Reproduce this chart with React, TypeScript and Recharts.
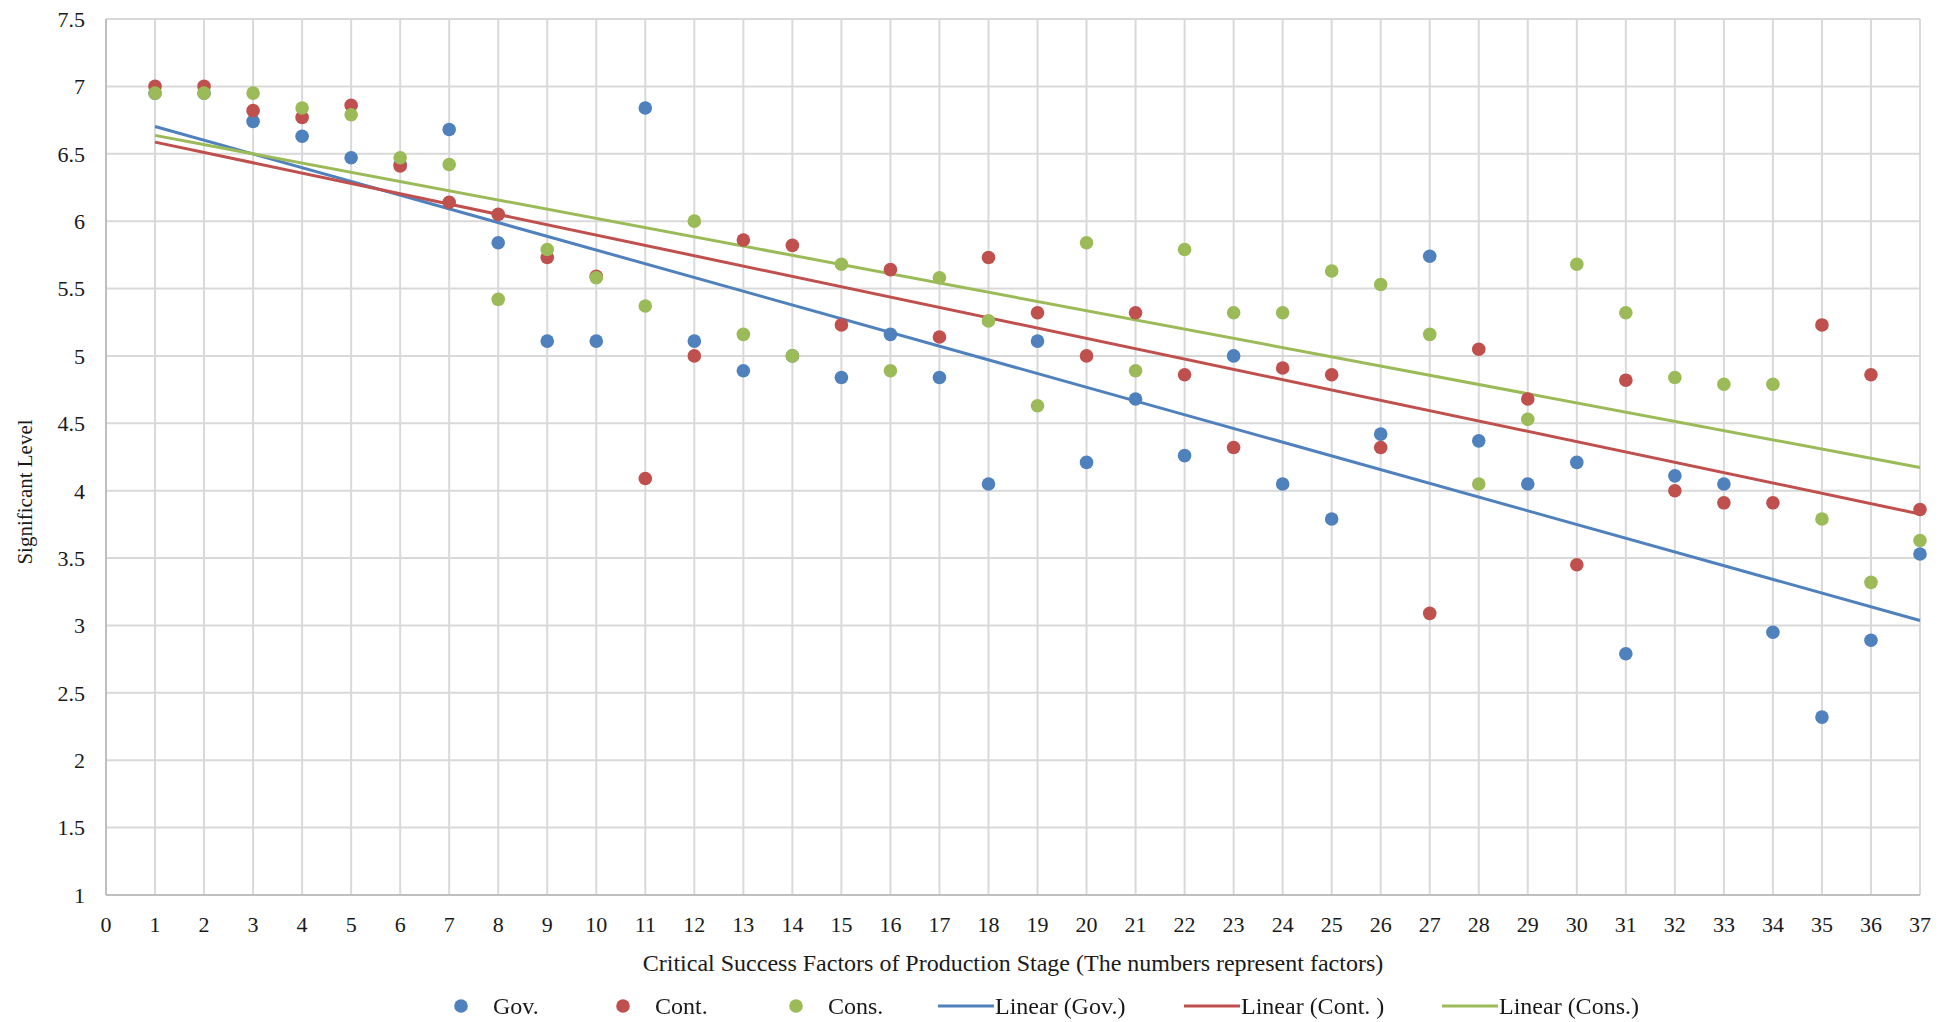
import { CartesianGrid, ComposedChart, Legend, Line, Scatter, XAxis, YAxis } from 'recharts';

const factors = [
  1, 2, 3, 4, 5, 6, 7, 8, 9, 10, 11, 12, 13, 14, 15, 16, 17, 18, 19, 20, 21, 22, 23, 24, 25, 26, 27, 28,
  29, 30, 31, 32, 33, 34, 35, 36, 37,
];

const govScores = [
  6.95, 6.95, 6.74, 6.63, 6.47, 6.42, 6.68, 5.84, 5.11, 5.11, 6.84, 5.11, 4.89, 5.0, 4.84, 5.16, 4.84, 4.05,
  5.11, 4.21, 4.68, 4.26, 5.0, 4.05, 3.79, 4.42, 5.74, 4.37, 4.05, 4.21, 2.79, 4.11, 4.05, 2.95, 2.32, 2.89,
  3.53,
];

const contScores = [
  7.0, 7.0, 6.82, 6.77, 6.86, 6.41, 6.14, 6.05, 5.73, 5.59, 4.09, 5.0, 5.86, 5.82, 5.23, 5.64, 5.14, 5.73,
  5.32, 5.0, 5.32, 4.86, 4.32, 4.91, 4.86, 4.32, 3.09, 5.05, 4.68, 3.45, 4.82, 4.0, 3.91, 3.91, 5.23, 4.86,
  3.86,
];

const consScores = [
  6.95, 6.95, 6.95, 6.84, 6.79, 6.47, 6.42, 5.42, 5.79, 5.58, 5.37, 6.0, 5.16, 5.0, 5.68, 4.89, 5.58, 5.26,
  4.63, 5.84, 4.89, 5.79, 5.32, 5.32, 5.63, 5.53, 5.16, 4.05, 4.53, 5.68, 5.32, 4.84, 4.79, 4.79, 3.79, 3.32,
  3.63,
];

const xTicks = [
  0, 1, 2, 3, 4, 5, 6, 7, 8, 9, 10, 11, 12, 13, 14, 15, 16, 17, 18, 19, 20, 21, 22, 23, 24, 25, 26, 27, 28,
  29, 30, 31, 32, 33, 34, 35, 36, 37,
];
const yTicks = [1, 1.5, 2, 2.5, 3, 3.5, 4, 4.5, 5, 5.5, 6, 6.5, 7, 7.5];

const FONT = '"Liberation Serif", "Times New Roman", serif';
const TEXT = '#1a1a1a';

const series = [
  { name: 'Gov.', trendName: 'Linear (Gov.)', color: '#4F81BD', values: govScores },
  { name: 'Cont.', trendName: 'Linear (Cont. )', color: '#C0504D', values: contScores },
  { name: 'Cons.', trendName: 'Linear (Cons.)', color: '#9BBB59', values: consScores },
];

const toPoints = (values: number[]) => factors.map((x, i) => ({ x, y: values[i] }));

// least squares fit, like Excel's linear trendline
const linearTrend = (values: number[]) => {
  const n = factors.length;
  const mx = factors.reduce((a, b) => a + b, 0) / n;
  const my = values.reduce((a, b) => a + b, 0) / n;
  let sxy = 0;
  let sxx = 0;
  factors.forEach((x, i) => {
    sxy += (x - mx) * (values[i] - my);
    sxx += (x - mx) * (x - mx);
  });
  const slope = sxy / sxx;
  return [factors[0], factors[n - 1]].map((x) => ({ x, y: my + slope * (x - mx) }));
};

const dotShape = (color: string) => (props: any) => (
  <circle cx={props.cx} cy={props.cy} r={6.8} fill={color} />
);

const legendLefts = [454, 616, 789, 938, 1184, 1442];

const LegendContent = () => {
  const items = [
    ...series.map((s) => ({ label: s.name, color: s.color, kind: 'dot' })),
    ...series.map((s) => ({ label: s.trendName, color: s.color, kind: 'line' })),
  ];
  return (
    <div style={{ position: 'relative', height: 40, fontFamily: FONT, fontSize: 24, color: TEXT }}>
      {items.map((item, i) => (
        <div
          key={item.label}
          style={{
            position: 'absolute',
            left: legendLefts[i],
            top: 4,
            height: 40,
            display: 'flex',
            alignItems: 'center',
            whiteSpace: 'nowrap',
          }}
        >
          {item.kind === 'dot' ? (
            <svg width={39} height={16}>
              <circle cx={7} cy={8} r={6.8} fill={item.color} />
            </svg>
          ) : (
            <svg width={57} height={16}>
              <line x1={0} y1={8} x2={56} y2={8} stroke={item.color} strokeWidth={3} />
            </svg>
          )}
          <span>{item.label}</span>
        </div>
      ))}
    </div>
  );
};

const YTitle = (props: any) => {
  const vb = props.viewBox || { x: 0, y: 19, width: 106, height: 876 };
  const cx = vb.x + 25;
  const cy = vb.y + vb.height / 2 + 35;
  return (
    <text
      x={cx}
      y={cy}
      transform={`rotate(-90 ${cx} ${cy})`}
      textAnchor="middle"
      dominantBaseline="central"
      fontFamily={FONT}
      fontSize={21}
      fill={TEXT}
    >
      Significant Level
    </text>
  );
};

export default function App() {
  return (
    <div
      style={{
        position: 'fixed',
        left: 0,
        top: 0,
        width: 1959,
        height: 1022,
        background: '#fff',
        fontFamily: FONT,
      }}
    >
      <ComposedChart
        width={1959}
        height={1022}
        margin={{ top: 19, right: 39, bottom: 0, left: 0 }}
        style={{ fontFamily: FONT }}
      >
        <CartesianGrid stroke="#d9d9d9" strokeWidth={2} />
        <XAxis
          dataKey="x"
          type="number"
          domain={[0, 37]}
          ticks={xTicks}
          interval={0}
          height={87}
          tickLine={false}
          tickSize={0}
          tickMargin={21}
          axisLine={{ stroke: '#bfbfbf', strokeWidth: 2 }}
          tick={{ fontFamily: FONT, fontSize: 22, fill: TEXT }}
          label={{
            value: 'Critical Success Factors of Production Stage (The numbers represent factors)',
            position: 'insideBottom',
            offset: 11,
            style: { fontFamily: FONT, fontSize: 24, fill: TEXT },
          }}
        />
        <YAxis
          dataKey="y"
          type="number"
          domain={[1, 7.5]}
          ticks={yTicks}
          interval={0}
          width={106}
          tickLine={false}
          tickSize={0}
          tickMargin={21}
          axisLine={{ stroke: '#bfbfbf', strokeWidth: 2 }}
          tick={{ fontFamily: FONT, fontSize: 22, fill: TEXT }}
          label={<YTitle />}
        />
        <Legend verticalAlign="bottom" content={<LegendContent />} />
        {series.map((s) => (
          <Line
            key={s.trendName}
            data={linearTrend(s.values)}
            dataKey="y"
            name={s.trendName}
            stroke={s.color}
            strokeWidth={3}
            dot={false}
            activeDot={false}
            isAnimationActive={false}
          />
        ))}
        {series.map((s) => (
          <Scatter
            key={s.name}
            data={toPoints(s.values)}
            name={s.name}
            fill={s.color}
            shape={dotShape(s.color)}
            isAnimationActive={false}
          />
        ))}
      </ComposedChart>
    </div>
  );
}
